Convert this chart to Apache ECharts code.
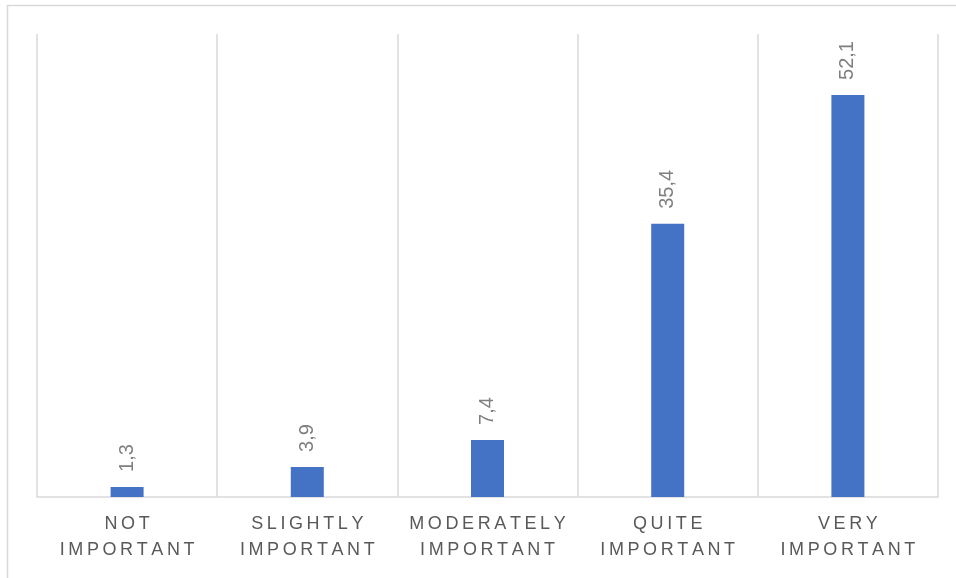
<!DOCTYPE html>
<html>
<head>
<meta charset="utf-8">
<script src="https://cdn.jsdelivr.net/npm/echarts@6/dist/echarts.min.js"></script>
<style>
  html, body { margin: 0; padding: 0; background: #fff; }
  #chart { width: 956px; height: 578px; }
</style>
</head>
<body>
<div id="chart"></div>
<script>
// Importance ratings (%), one bar per answer option
const categories = [
  ['NOT', 'IMPORTANT'],
  ['SLIGHTLY', 'IMPORTANT'],
  ['MODERATELY', 'IMPORTANT'],
  ['QUITE', 'IMPORTANT'],
  ['VERY', 'IMPORTANT']
];
const values = [1.3, 3.9, 7.4, 35.4, 52.1];

// Spread letters apart with thin spaces for a tracked-out look
const THIN = '\u2009';
const spread = s => s.split('').join(THIN);
const axisLabels = categories.map(lines => lines.map(spread).join('\n'));

const chart = echarts.init(document.getElementById('chart'), null, { renderer: 'canvas' });

chart.setOption({
  backgroundColor: '#ffffff',
  animation: false,
  textStyle: { fontFamily: '"Liberation Sans", Arial, sans-serif' },
  graphic: [{
    type: 'rect',
    shape: { x: 7.5, y: 5.5, width: 1000, height: 700 },
    style: { fill: 'none', stroke: '#d9d9d9', lineWidth: 1.5 },
    silent: true,
    z: -1
  }],
  grid: { left: 37, right: 18, top: 34, bottom: 81, containLabel: false },
  xAxis: {
    type: 'category',
    data: axisLabels,
    boundaryGap: true,
    axisLine: { show: true, lineStyle: { color: '#d9d9d9', width: 1.5 } },
    axisTick: { show: false },
    splitLine: { show: true, lineStyle: { color: '#d9d9d9', width: 1.5 } },
    axisLabel: {
      color: '#595959',
      fontSize: 18,
      lineHeight: 26,
      margin: 14,
      interval: 0
    }
  },
  yAxis: {
    type: 'value',
    min: 0,
    max: 60,
    show: false,
    splitLine: { show: false }
  },
  series: [{
    type: 'bar',
    data: values,
    barWidth: 33,
    itemStyle: { color: '#4472C4' },
    label: {
      show: true,
      position: 'top',
      rotate: 90,
      align: 'left',
      verticalAlign: 'middle',
      distance: 15,
      color: '#7f7f7f',
      fontSize: 20,
      formatter: p => String(p.value).replace('.', ',')
    }
  }]
});
</script>
</body>
</html>
